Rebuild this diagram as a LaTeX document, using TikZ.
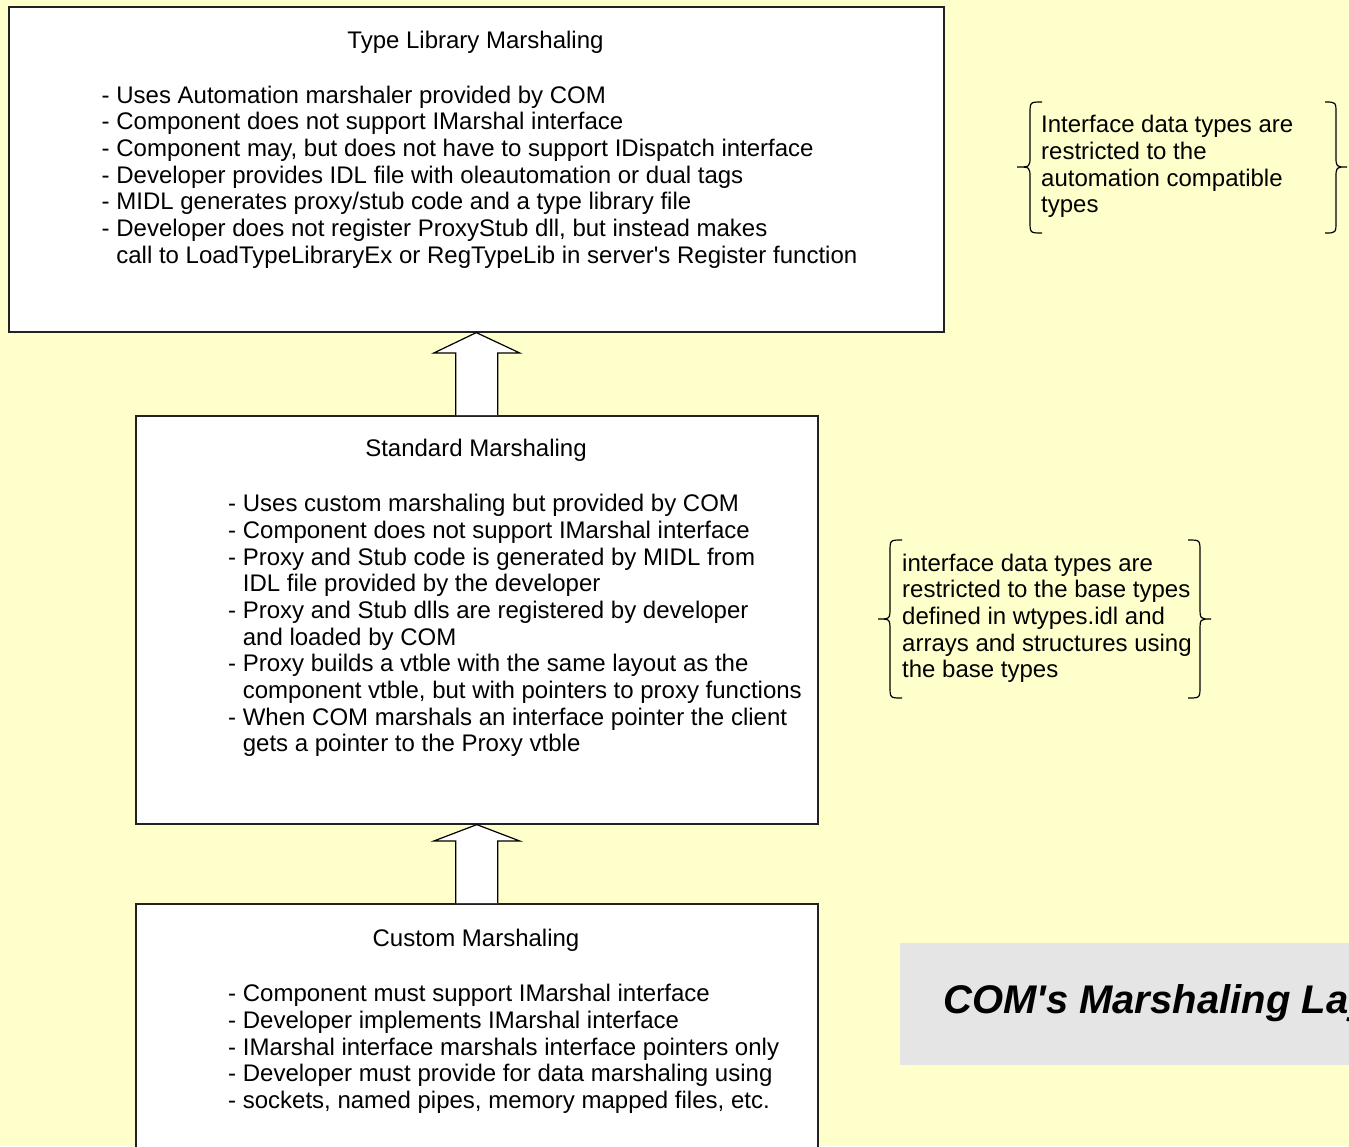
\documentclass[tikz,border=0pt]{standalone}
\usepackage{fontspec}
\setmainfont{Liberation Sans}[Ligatures=TeXOff]
\usetikzlibrary{calc}
\definecolor{bg}{HTML}{FFFFCC}
\definecolor{titlegray}{HTML}{E5E5E5}
\definecolor{boxline}{HTML}{222222}
\newcommand{\ind}{\phantom{- }}
\newcommand{\fs}{\rule{0pt}{19pt}}
\begin{document}
\begin{tikzpicture}[x=1pt,y=-1pt,
  layerbox/.style={draw=boxline, line width=1.6pt, fill=white, anchor=north west, inner sep=0pt},
  body/.style={anchor=north west, inner sep=0pt, align=left, font=\fontsize{24}{26.67}\selectfont},
  ttl/.style={anchor=base, inner sep=0pt, font=\fontsize{24}{26.67}\selectfont},
  bracepath/.style={draw=black, line width=1.2pt},
  blockarrow/.style={fill=white, draw=black, line width=1.2pt, line join=miter},
  ]
\useasboundingbox (0,0) rectangle (1349,1146);
\clip (0,0) rectangle (1349,1146);
\fill[bg] (0,0) rectangle (1349,1146);

% boxes
\node[layerbox, minimum width=935pt, minimum height=325pt] (tl) at (8,6) {};
\node[layerbox, minimum width=682pt, minimum height=408pt] (sm) at (135,415) {};
\node[layerbox, minimum width=682pt, minimum height=270pt] (cm) at (135,903) {};

% titles
\node[ttl] (tlT) at (475.5,48) {Type Library Marshaling};
\node[ttl] (smT) at (476,456.7) {Standard Marshaling};
\node[ttl] (cmT) at (476,946.7) {Custom Marshaling};

% bodies
\node[body] (tlB) at (101.5,84) {\fs- Uses Automation marshaler provided by COM\\
- Component does not support IMarshal interface\\
- Component may, but does not have to support IDispatch interface\\
- Developer provides IDL file with oleautomation or dual tags\\
- MIDL generates proxy/stub code and a type library file\\
- Developer does not register ProxyStub dll, but instead makes\\
\ind call to LoadTypeLibraryEx or RegTypeLib in server's Register function};

\node[body] (smB) at (228,492.7) {\fs- Uses custom marshaling but provided by COM\\
- Component does not support IMarshal interface\\
- Proxy and Stub code is generated by MIDL from\\
\ind IDL file provided by the developer\\
- Proxy and Stub dlls are registered by developer\\
\ind and loaded by COM\\
- Proxy builds a vtble with the same layout as the\\
\ind component vtble, but with pointers to proxy functions\\
- When COM marshals an interface pointer the client\\
\ind gets a pointer to the Proxy vtble};

\node[body] (cmB) at (228,982.7) {\fs- Component must support IMarshal interface\\
- Developer implements IMarshal interface\\
- IMarshal interface marshals interface pointers only\\
- Developer must provide for data marshaling using\\
- sockets, named pipes, memory mapped files, etc.};

% block arrows
\path[blockarrow] ($(sm.north)+(-21,0)$) -- ++(0,-62) -- ++(-22,0) -- (tl.south)
  -- ($(sm.north)+(43,-62)$) -- ++(-22,0) -- ++(0,62);
\path[blockarrow] ($(cm.north)+(-21,0)$) -- ++(0,-62) -- ++(-22,0) -- (sm.south)
  -- ($(cm.north)+(43,-62)$) -- ++(-22,0) -- ++(0,62);

% braces 1
\draw[bracepath] (1042,102) .. controls (1030,102) .. (1030,114) -- (1030,156)
  .. controls (1030,167) .. (1017,167) .. controls (1030,167) .. (1030,178)
  -- (1030,221) .. controls (1030,233) .. (1042,233);
\draw[bracepath] (1325,102) .. controls (1336,102) .. (1336,114) -- (1336,156)
  .. controls (1336,167) .. (1347,167) .. controls (1336,167) .. (1336,178)
  -- (1336,221) .. controls (1336,233) .. (1325,233);
\node[body] (b1) at (1041,113.5) {\fs Interface data types are\\
restricted to the\\
automation compatible\\
types};

% braces 2
\draw[bracepath] (902,540) .. controls (890,540) .. (890,552) -- (890,607)
  .. controls (890,619) .. (878,619) .. controls (890,619) .. (890,631)
  -- (890,686) .. controls (890,698) .. (902,698);
\draw[bracepath] (1188,540) .. controls (1200,540) .. (1200,552) -- (1200,607)
  .. controls (1200,619) .. (1211,619) .. controls (1200,619) .. (1200,631)
  -- (1200,686) .. controls (1200,698) .. (1188,698);
\node[body] (b2) at (902,552) {\fs interface data types are\\
restricted to the base types\\
defined in wtypes.idl and\\
arrays and structures using\\
the base types};

% title
\node[fill=titlegray, anchor=north west, inner sep=0pt, minimum width=500pt, minimum height=122pt] (tb) at (900,943) {};
\node[anchor=base west, inner sep=0pt, font=\fontsize{40}{40}\selectfont\bfseries\itshape] (tt) at (943,1013.3) {COM's Marshaling Layers};
\end{tikzpicture}
\end{document}
